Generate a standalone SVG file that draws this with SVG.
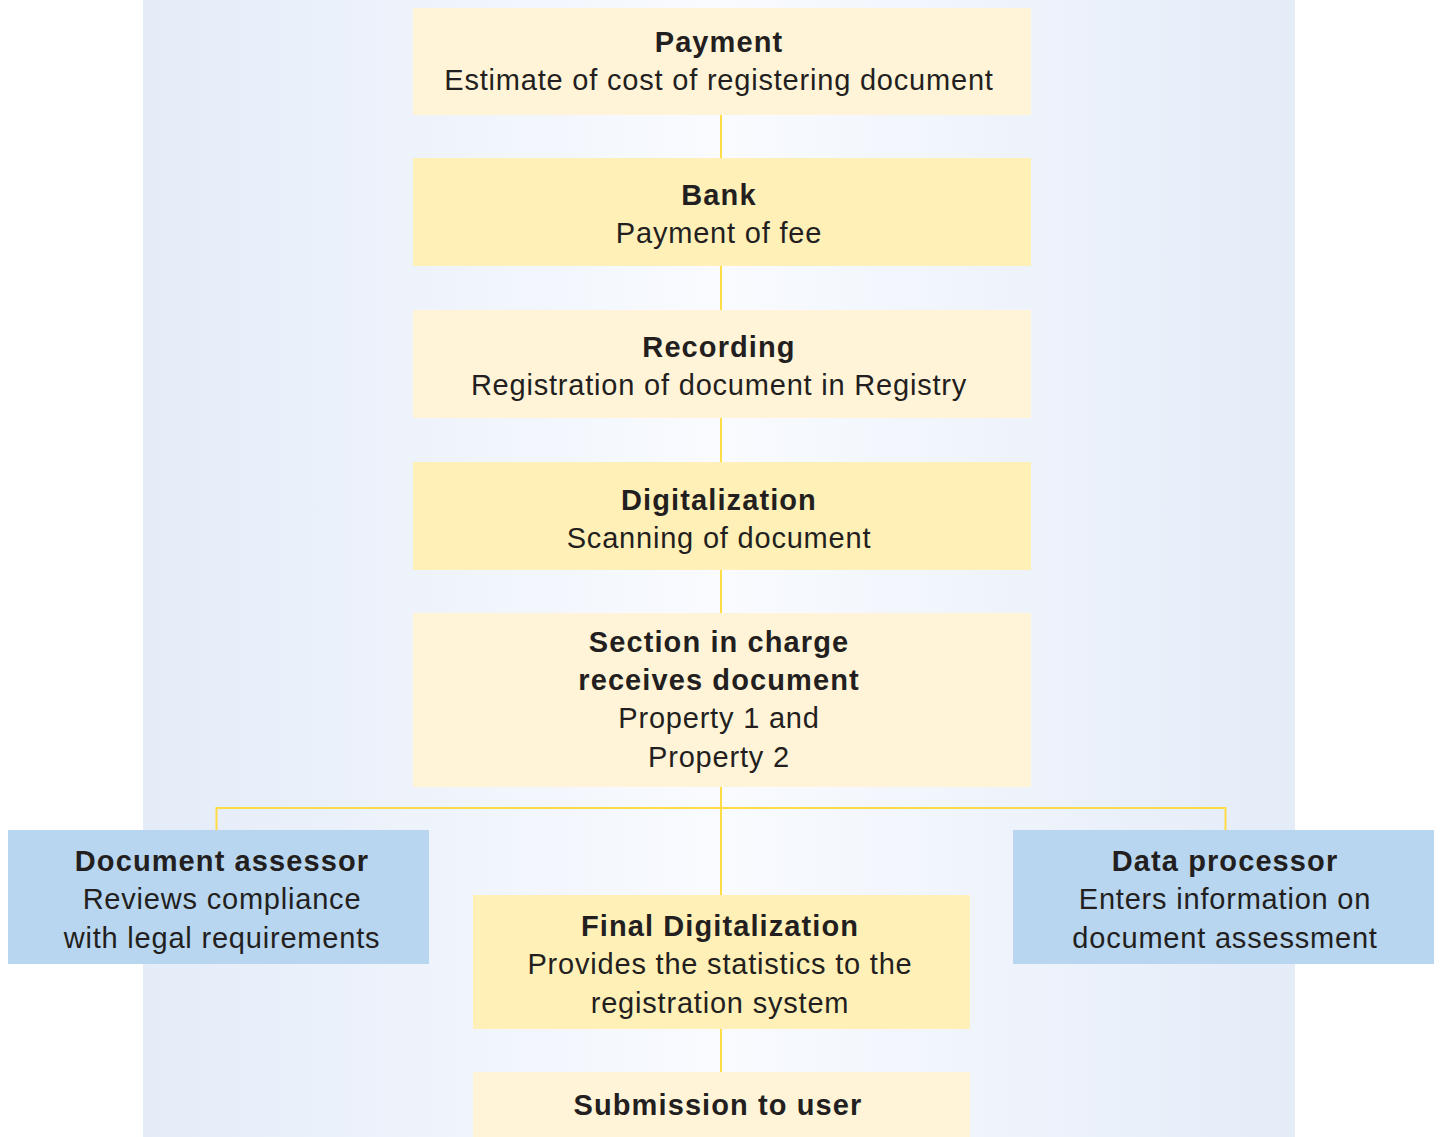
<svg xmlns="http://www.w3.org/2000/svg" width="1443" height="1137" viewBox="0 0 1443 1137">
  <defs>
    <linearGradient id="panelGrad" x1="0" y1="0" x2="1" y2="0">
      <stop offset="0" stop-color="#e4ecf8"/>
      <stop offset="0.5" stop-color="#f9fbff"/>
      <stop offset="1" stop-color="#e4ecf8"/>
    </linearGradient>
    <style>
      .light { fill: #fff4d8; }
      .yellow { fill: #fff0b8; }
      .blue { fill: #b8d6ef; }
      .link { fill: none; stroke: #ffdc46; stroke-width: 2; }
      text { font-family: "Liberation Sans", Arial, sans-serif; fill: #231f20; text-anchor: middle; }
      .title { font-size: 29px; font-weight: bold; letter-spacing: 1.1px; }
      .body { font-size: 29px; letter-spacing: 0.8px; }
    </style>
  </defs>

  <rect width="1443" height="1137" fill="#ffffff"/>
  <!-- background panel -->
  <rect x="143" y="0" width="1152" height="1137" fill="url(#panelGrad)"/>

  <!-- connectors -->
  <g id="connectors">
    <line class="link" x1="721" y1="115" x2="721" y2="158"/>
    <line class="link" x1="721" y1="266" x2="721" y2="310"/>
    <line class="link" x1="721" y1="418" x2="721" y2="462"/>
    <line class="link" x1="721" y1="570" x2="721" y2="613"/>
    <line class="link" x1="721" y1="787" x2="721" y2="895"/>
    <polyline class="link" points="216.5,830 216.5,808 1225.5,808 1225.5,830"/>
    <line class="link" x1="721" y1="1029" x2="721" y2="1072"/>
  </g>

  <g id="payment">
    <rect class="light" x="413" y="8" width="618" height="107"/>
    <text class="title" x="719" y="52">Payment</text>
    <text class="body" x="719" y="90">Estimate of cost of registering document</text>
  </g>

  <g id="bank">
    <rect class="yellow" x="413" y="158" width="618" height="108"/>
    <text class="title" x="719" y="205">Bank</text>
    <text class="body" x="719" y="243">Payment of fee</text>
  </g>

  <g id="recording">
    <rect class="light" x="413" y="310" width="618" height="108"/>
    <text class="title" x="719" y="357">Recording</text>
    <text class="body" x="719" y="395">Registration of document in Registry</text>
  </g>

  <g id="digitalization">
    <rect class="yellow" x="413" y="462" width="618" height="108"/>
    <text class="title" x="719" y="510">Digitalization</text>
    <text class="body" x="719" y="548">Scanning of document</text>
  </g>

  <g id="section">
    <rect class="light" x="413" y="613" width="618" height="174"/>
    <text class="title" x="719" y="652">Section in charge</text>
    <text class="title" x="719" y="690">receives document</text>
    <text class="body" x="719" y="728">Property 1 and</text>
    <text class="body" x="719" y="767">Property 2</text>
  </g>

  <g id="document-assessor">
    <rect class="blue" x="8" y="830" width="421" height="134"/>
    <text class="title" x="222" y="871">Document assessor</text>
    <text class="body" x="222" y="909">Reviews compliance</text>
    <text class="body" x="222" y="948">with legal requirements</text>
  </g>

  <g id="data-processor">
    <rect class="blue" x="1013" y="830" width="421" height="134"/>
    <text class="title" x="1225" y="871">Data processor</text>
    <text class="body" x="1225" y="909">Enters information on</text>
    <text class="body" x="1225" y="948">document assessment</text>
  </g>

  <g id="final-digitalization">
    <rect class="yellow" x="473" y="895" width="497" height="134"/>
    <text class="title" x="720" y="936">Final Digitalization</text>
    <text class="body" x="720" y="974">Provides the statistics to the</text>
    <text class="body" x="720" y="1013">registration system</text>
  </g>

  <g id="submission">
    <rect class="light" x="473" y="1072" width="497" height="65"/>
    <text class="title" x="718" y="1115">Submission to user</text>
  </g>
</svg>
